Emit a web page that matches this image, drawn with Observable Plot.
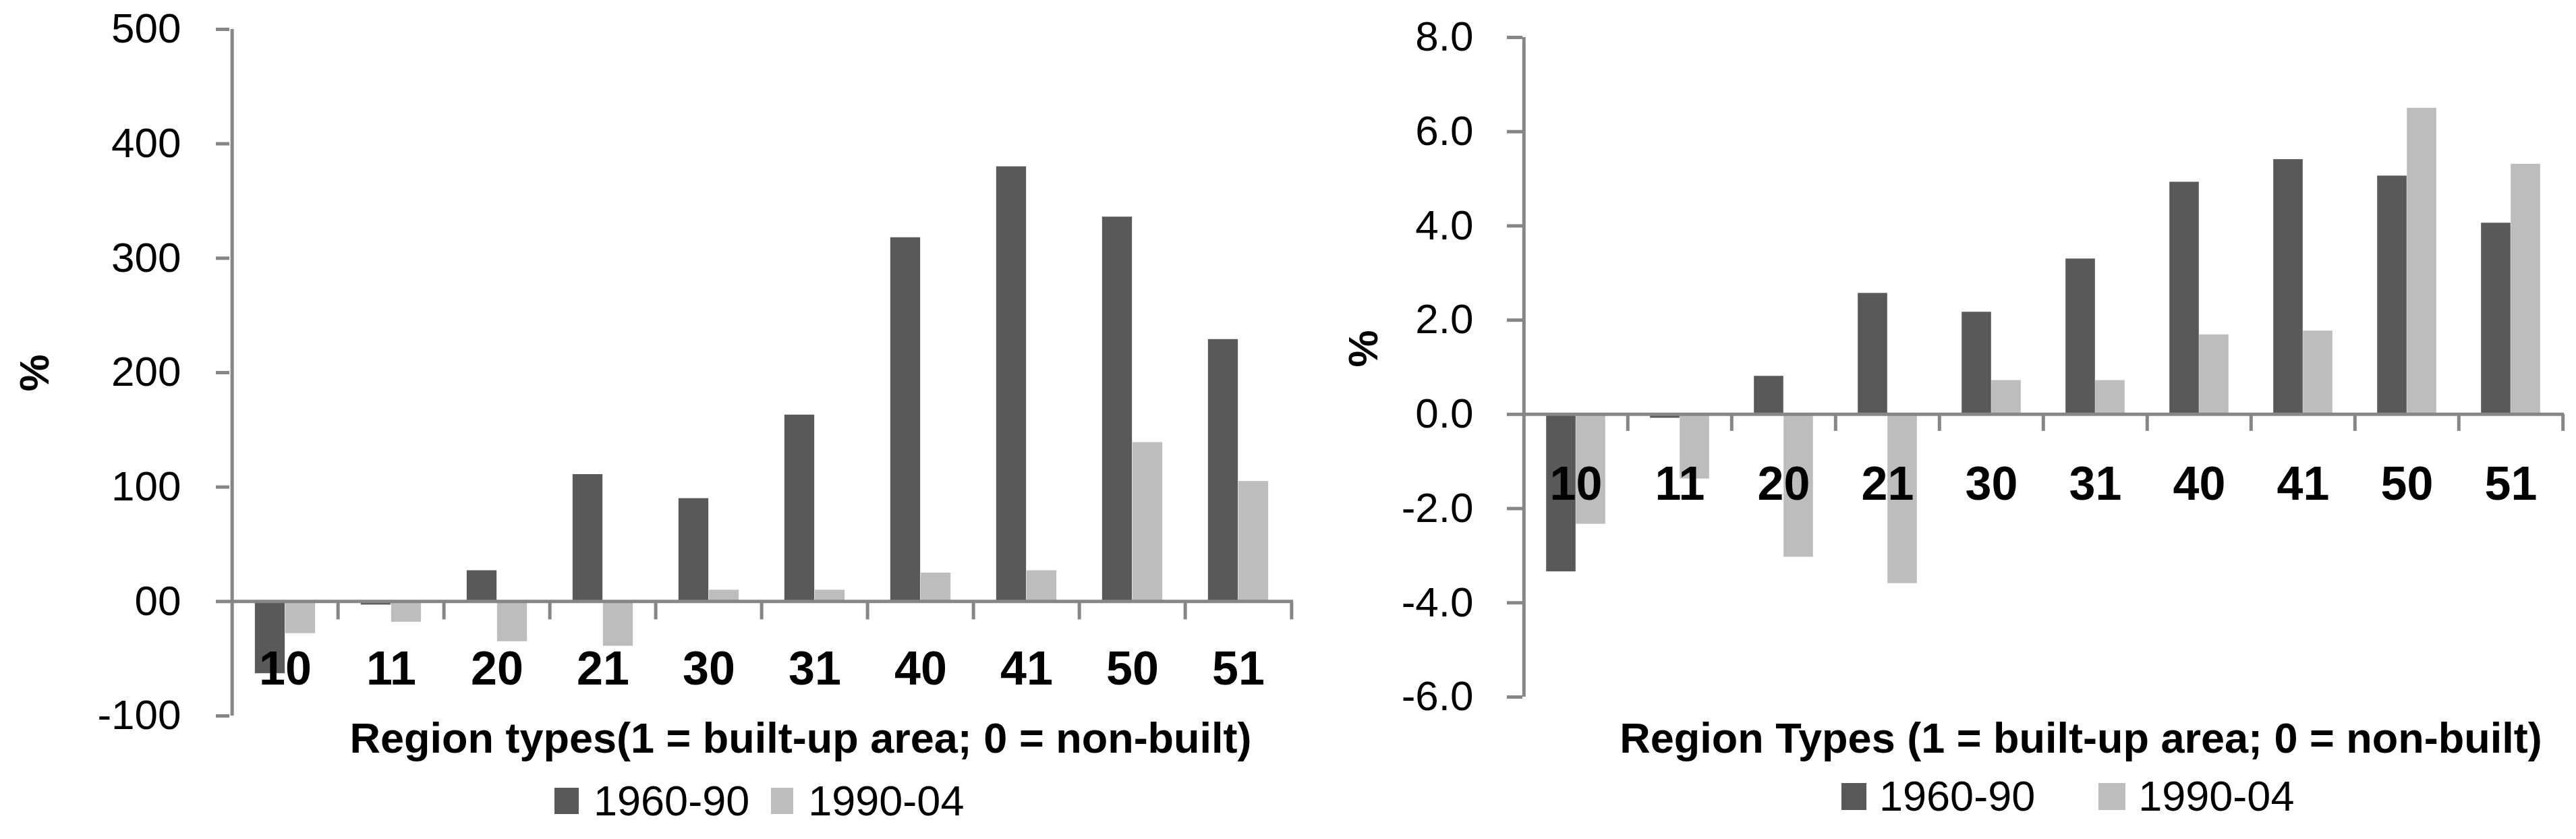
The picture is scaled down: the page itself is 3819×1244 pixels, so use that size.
<!DOCTYPE html>
<html><head><meta charset="utf-8">
<script src="https://cdn.jsdelivr.net/npm/d3@7"></script>
<script src="https://cdn.jsdelivr.net/npm/@observablehq/plot@0.6"></script>
<style>
html,body{margin:0;padding:0;background:#fff;}
#page{position:relative;width:3819px;height:1244px;overflow:hidden;font-family:"Liberation Sans",Arial,sans-serif;background:#fff;}
.chart{position:absolute;top:0;}
.title{position:absolute;width:2000px;text-align:center;font-weight:bold;font-size:63px;line-height:63px;white-space:nowrap;color:#000;}
.legend{position:absolute;display:flex;align-items:center;font-size:63px;line-height:63px;height:63px;white-space:nowrap;color:#000;}
.sw{display:inline-block;flex:none;}
</style></head>
<body><div id="page"></div>
<script>
// ---- data ----
const categories = ["10","11","20","21","30","31","40","41","50","51"];
const seriesNames = ["1960-90","1990-04"];
const seriesColors = ["#595959","#bdbdbd"];
const left1960_90 = [-63,-3,27,111,90,163,318,380,336,229];
const left1990_04 = [-28,-18,-35,-39,10,10,25,27,139,105];
const right1960_90 = [-3.34,-0.08,0.81,2.57,2.17,3.30,4.93,5.41,5.06,4.06];
const right1990_04 = [-2.33,-1.37,-3.03,-3.59,0.72,0.72,1.69,1.77,6.50,5.31];
const leftTicks = [-100,0,100,200,300,400,500];
const leftTickLabels = ["-100","00","100","200","300","400","500"];
const rightTicks = [-6,-4,-2,0,2,4,6,8];
const rightTickLabels = ["-6.0","-4.0","-2.0","0.0","2.0","4.0","6.0","8.0"];
const leftXTitle = "Region types(1 = built-up area; 0 = non-built)";
const rightXTitle = "Region Types (1 = built-up area; 0 = non-built)";
const yTitle = "%";

const FONT = '"Liberation Sans", Arial, sans-serif';
const AXIS = "#868686";

function chart(c) {
  const rows = categories.map((cat, i) => ({cat, a: c.v1[i], b: c.v2[i]}));
  const step = (c.width - c.marginLeft - c.marginRight) / categories.length;
  const gapL = (step - 2 * c.barW) / 2;
  return Plot.plot({
    width: c.width, height: 1244,
    marginLeft: c.marginLeft, marginRight: c.marginRight,
    marginTop: c.marginTop, marginBottom: c.marginBottom,
    style: {background: "transparent", fontFamily: FONT, overflow: "visible"},
    x: {type: "band", domain: categories, padding: 0, axis: null},
    y: {domain: c.domain, axis: null},
    marks: [
      Plot.barY(rows, {x: "cat", y: "a", fill: seriesColors[0], insetLeft: gapL, insetRight: step - gapL - c.barW}),
      Plot.barY(rows, {x: "cat", y: "b", fill: seriesColors[1], insetLeft: gapL + c.barW, insetRight: gapL}),
      Plot.text(categories, {x: d => d, y: 0, dy: c.labelDy, text: d => d, fontSize: 70, fontWeight: "bold", fill: "black"}),
      Plot.ruleY([0], {stroke: AXIS, strokeWidth: 5}),
      Plot.ruleX([categories[0]], {x: d => d, dx: -step / 2, y1: c.domain[0], y2: c.domain[1], stroke: AXIS, strokeWidth: 5}),
      Plot.ruleX(categories.slice(1), {x: d => d, dx: -step / 2, y1: 0, y2: 0, insetBottom: -c.sepLen, stroke: AXIS, strokeWidth: 5}),
      Plot.ruleX([categories[categories.length - 1]], {x: d => d, dx: step / 2, y1: 0, y2: 0, insetBottom: -c.sepLen, stroke: AXIS, strokeWidth: 5}),
      Plot.axisY(c.ticks, {tickSize: c.tickLen, tickPadding: c.tickPad, tickFormat: d => c.tickLabels[c.ticks.indexOf(d)],
        fontSize: 62, stroke: AXIS, strokeWidth: 5, fill: "black", label: null}),
      Plot.text([yTitle], {frameAnchor: "left", rotate: -90, dx: c.pctDx, dy: c.pctDy, fontSize: 62, fontWeight: "bold", fill: "black"})
    ]
  });
}

const page = document.getElementById("page");

function place(node, left, width) {
  const d = document.createElement("div");
  d.className = "chart";
  d.style.left = left + "px";
  d.style.width = width + "px";
  d.appendChild(node);
  page.appendChild(d);
}

place(chart({
  width: 1930, marginLeft: 340, marginRight: 13, marginTop: 43, marginBottom: 183,
  domain: [-100, 500], ticks: leftTicks, tickLabels: leftTickLabels,
  v1: left1960_90, v2: left1990_04, barW: 45, tickLen: 20, tickPad: 52, sepLen: 27,
  labelDy: 101, pctDx: -288, pctDy: 28
}), 0, 1930);

place(chart({
  width: 1889, marginLeft: 327, marginRight: 18, marginTop: 55, marginBottom: 211,
  domain: [-6, 8], ticks: rightTicks, tickLabels: rightTickLabels,
  v1: right1960_90, v2: right1990_04, barW: 44, tickLen: 23, tickPad: 50, sepLen: 25,
  labelDy: 104, pctDx: -235, pctDy: 0
}), 1930, 1889);

function title(text, cx, cy) {
  const t = document.createElement("div");
  t.className = "title";
  t.textContent = text;
  t.style.left = (cx - 1000) + "px";
  t.style.top = (cy - 31) + "px";
  page.appendChild(t);
}
title(leftXTitle, 1187, 1094);
title(rightXTitle, 3085, 1094);

function legend(left, cy, sizes, gaps) {
  const l = document.createElement("div");
  l.className = "legend";
  l.style.left = left + "px";
  l.style.top = (cy - 31) + "px";
  seriesNames.forEach((name, i) => {
    const sw = document.createElement("span");
    sw.className = "sw";
    sw.style.width = sizes[i][0] + "px";
    sw.style.height = sizes[i][1] + "px";
    sw.style.background = seriesColors[i];
    sw.style.marginRight = gaps[0] + "px";
    if (i > 0) sw.style.marginLeft = gaps[1] + "px";
    const tx = document.createElement("span");
    tx.textContent = name;
    l.appendChild(sw);
    l.appendChild(tx);
  });
  page.appendChild(l);
}
legend(822, 1187, [[36, 39], [33, 39]], [22, 32]);
legend(2730, 1180, [[37, 40], [40, 40]], [19, 94]);
</script>
</body></html>
